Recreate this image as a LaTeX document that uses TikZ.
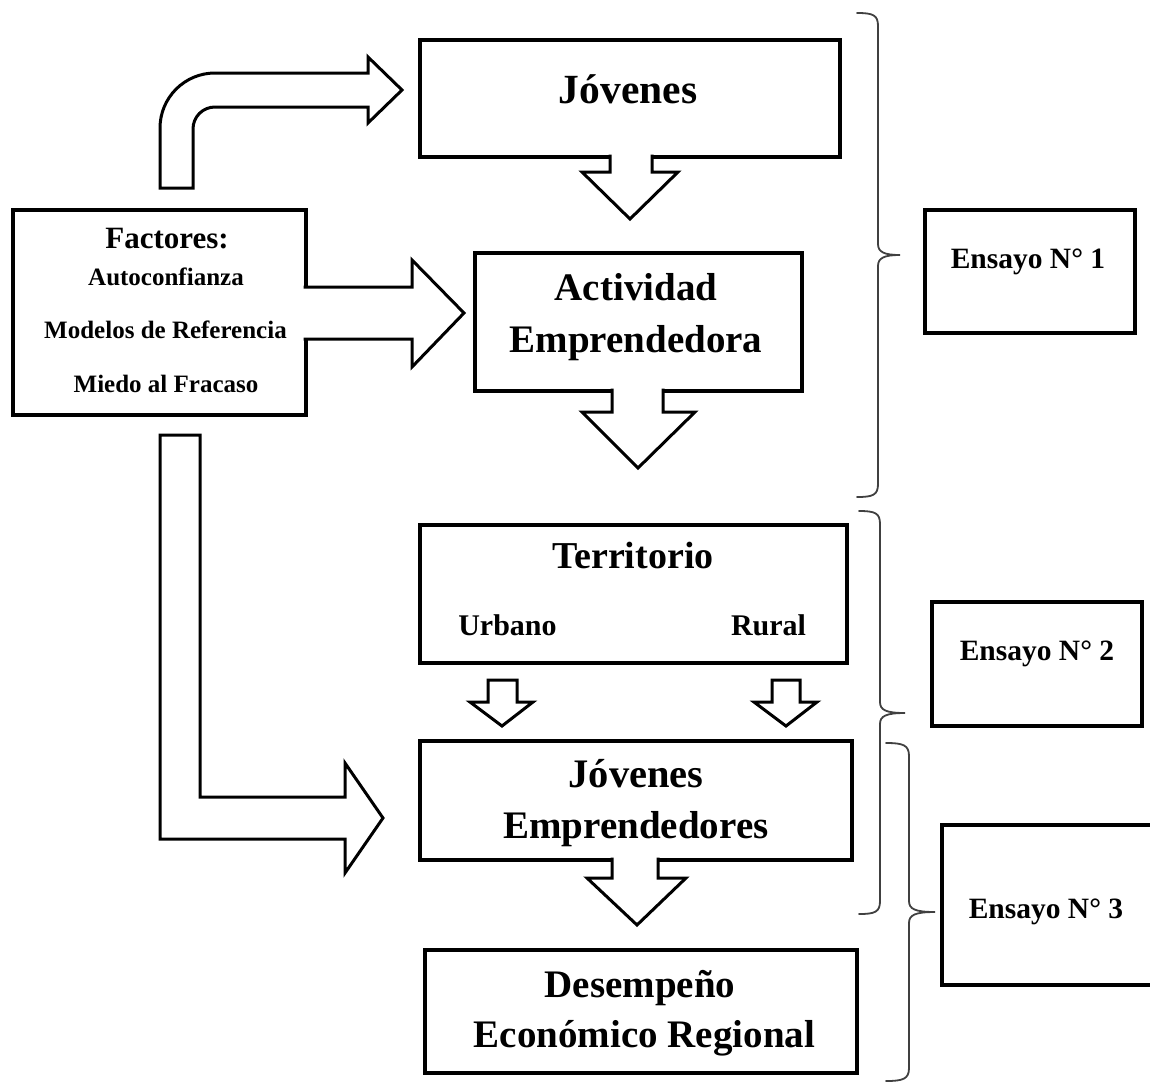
\documentclass[tikz,border=0pt]{standalone}
\usepackage{fontspec}
\setmainfont{Liberation Serif}
\newcommand\myfs[1]{\fontsize{#1}{#1}\selectfont\bfseries}
\begin{document}
\begin{tikzpicture}[x=1pt,y=-1pt,
  box/.style={draw=black,line width=3.6pt,rectangle,inner sep=0pt,fill=white},
  txt/.style={anchor=base,inner sep=0pt},
  big/.style={txt,font=\myfs{39}},
  mid/.style={txt,font=\myfs{30}},
  small/.style={txt,font=\myfs{25}},
  ens/.style={txt,font=\myfs{29.5}},
  blockarrow/.style={draw=black,fill=white,line width=3pt,line join=miter},
  brace/.style={draw=black!75,line width=1.8pt,line cap=round}]
\useasboundingbox (0,0) rectangle (1150,1082);
\fill[white] (0,0) rectangle (1150,1082);

% boxes
\node[box,minimum width=420pt,minimum height=117pt] (jov) at (630,98.5) {};
\node[box,minimum width=327pt,minimum height=138pt] (act) at (638.5,322) {};
\node[box,minimum width=293pt,minimum height=205pt] (fac) at (159.5,312.5) {};
\node[box,minimum width=427pt,minimum height=138pt] (ter) at (633.5,594) {};
\node[box,minimum width=432pt,minimum height=119pt] (joe) at (636,800.5) {};
\node[box,minimum width=432pt,minimum height=123pt] (des) at (641,1011.5) {};
\node[box,minimum width=210pt,minimum height=123pt] (e1) at (1030,271.5) {};
\node[box,minimum width=210pt,minimum height=124pt] (e2) at (1037,664) {};
\node[box,minimum width=214pt,minimum height=160pt] (e3) at (1049,905) {};

% block arrows
\draw[blockarrow] (610,154.5) -- (610,172) -- (582,172) -- (630,219) -- (678,172) -- (652,172) -- (652,154.5);
\draw[blockarrow] (612,388.5) -- (612,412) -- (582,412) -- (638,468) -- (695,412) -- (663,412) -- (663,388.5);
\draw[blockarrow] (612,857.5) -- (612,878) -- (587,878) -- (637,925) -- (686,878) -- (658,878) -- (658,857.5);
\draw[blockarrow] (303.5,287) -- (412,287) -- (412,260) -- (464,313) -- (412,367) -- (412,339) -- (303.5,339);
\draw[blockarrow] (488,680) -- (517,680) -- (517,702) -- (533,702) -- (502,726) -- (470,702) -- (488,702) -- cycle;
\draw[blockarrow] (772,680) -- (800,680) -- (800,702) -- (817,702) -- (786,726) -- (754,702) -- (772,702) -- cycle;
\draw[blockarrow] (160,188) -- (160,128) .. controls (160,97.6) and (184.6,73) .. (215,73)
  -- (368,73) -- (368,57) -- (402,90) -- (368,123) -- (368,107) -- (215,107)
  .. controls (202.8,107) and (193,116.8) .. (193,129) -- (193,188) -- cycle;
\draw[blockarrow] (160,435) -- (200,435) -- (200,797) -- (345,797) -- (345,763) -- (383,818)
  -- (345,873) -- (345,839) -- (160,839) -- cycle;

% braces
\coordinate (b1t) at (857,13);
\coordinate (b1m) at (900,255);
\coordinate (b1b) at (857,497);
\draw[brace] (b1t) .. controls (873,13) and (878,15) .. (878,26) -- (878,244)
  .. controls (878,252) and (884,255) .. (b1m) .. controls (884,255) and (878,258) .. (878,266)
  -- (878,484) .. controls (878,495) and (873,497) .. (b1b);
\coordinate (b2t) at (859,511);
\coordinate (b2m) at (905,713);
\coordinate (b2b) at (859,914);
\draw[brace] (b2t) .. controls (875,511) and (880,513) .. (880,524) -- (880,702)
  .. controls (880,710) and (886,713) .. (b2m) .. controls (886,713) and (880,716) .. (880,724)
  -- (880,901) .. controls (880,912) and (875,914) .. (b2b);
\coordinate (b3t) at (886,743);
\coordinate (b3m) at (935,912);
\coordinate (b3b) at (886,1081);
\draw[brace] (b3t) .. controls (903,743) and (909,745) .. (909,756) -- (909,901)
  .. controls (909,909) and (915,912) .. (b3m) .. controls (915,912) and (909,915) .. (909,923)
  -- (909,1068) .. controls (909,1079) and (903,1081) .. (b3b);

% texts
\node[big,font=\myfs{41.5}] (tjov) at (628,103) {Jóvenes};
\node[big] (tact1) at (636,300) {Actividad};
\node[big] (tact2) at (636,352) {Emprendedora};
\node[small,font=\myfs{31}] (tfac) at (167,248) {Factores:};
\node[small] (tf1) at (166,285) {Autoconfianza};
\node[small] (tf2) at (165.5,338) {Modelos de Referencia};
\node[small] (tf3) at (166,392) {Miedo al Fracaso};
\node[big,font=\myfs{38}] (tter) at (633,568) {Territorio};
\node[mid] (turb) at (507.5,635) {Urbano};
\node[mid] (trur) at (768.5,635) {Rural};
\node[big,font=\myfs{40.5}] (tjoe1) at (636,787) {Jóvenes};
\node[big] (tjoe2) at (636,838) {Emprendedores};
\node[big] (tdes1) at (640,997) {Desempeño};
\node[big] (tdes2) at (644.5,1047) {Económico Regional};
\node[ens] (te1) at (1028,268) {Ensayo N° 1};
\node[ens] (te2) at (1037,660) {Ensayo N° 2};
\node[ens] (te3) at (1046,918) {Ensayo N° 3};
\end{tikzpicture}
\end{document}
